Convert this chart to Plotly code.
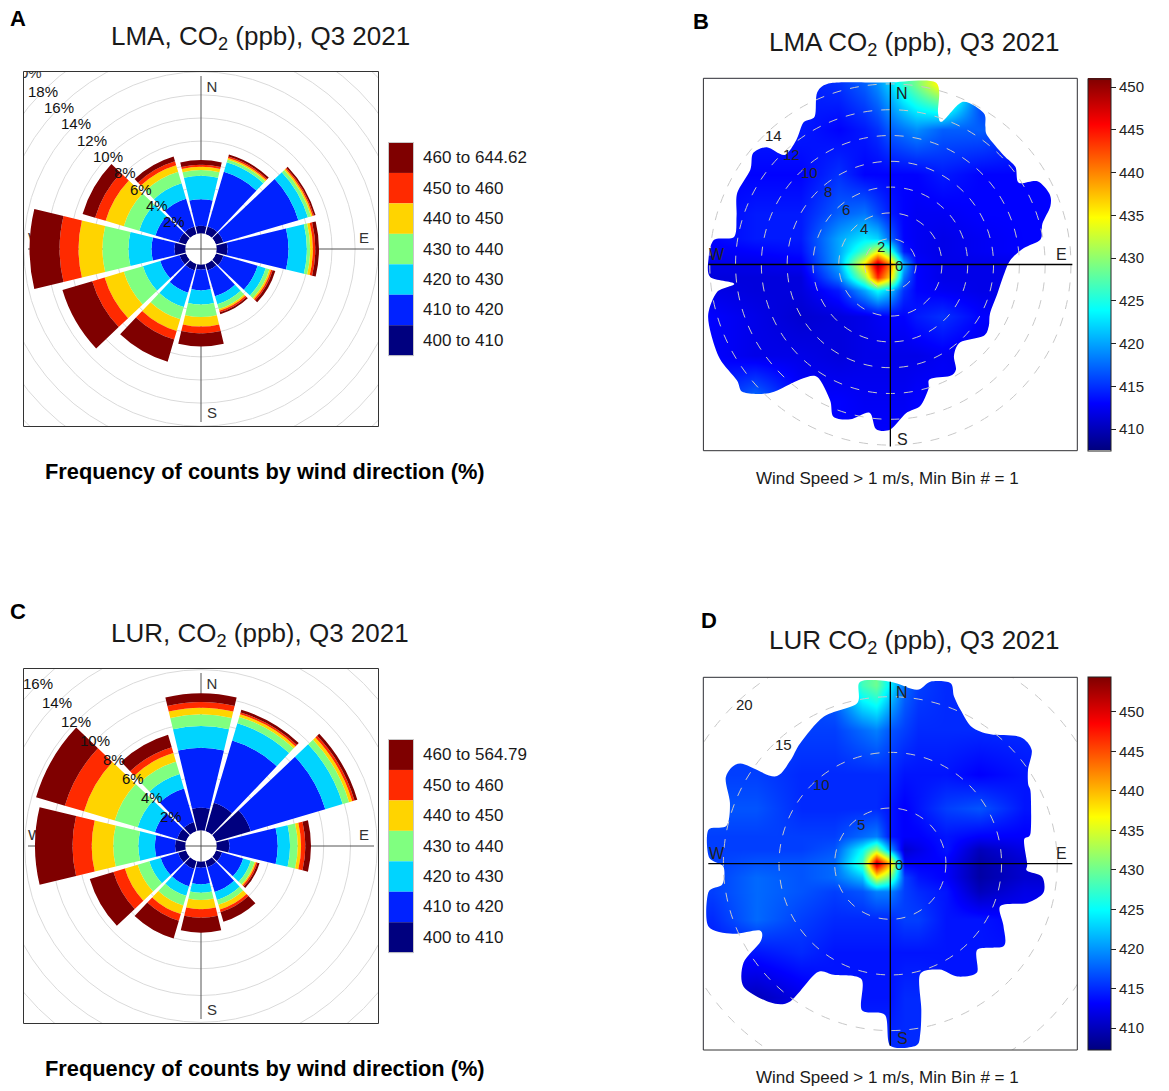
import numpy as np
import plotly.graph_objects as go

W, H = 1169, 1091
FONT = "Liberation Sans, Arial, sans-serif"

# ---------------- wind roses: frequency (%) by 30 degree sector and CO2 band ----------------
directions = [0, 30, 60, 90, 120, 150, 180, 210, 240, 270, 300, 330]
band_colors = ["#00007F", "#0022FF", "#00D4FF", "#80FF80", "#FFD400", "#FF2A00", "#7F0000"]
bands_lma = ["400 to 410", "410 to 420", "420 to 430", "430 to 440",
             "440 to 450", "450 to 460", "460 to 644.62"]
bands_lur = ["400 to 410", "410 to 420", "420 to 430", "430 to 440",
             "440 to 450", "450 to 460", "460 to 564.79"]

lma_400 = [0.67, 0.70, 0.69, 0.95, 0.69, 0.60, 0.43, 0.60, 0.60, 0.95, 0.69, 0.69]
lma_410 = [2.30, 4.93, 6.76, 5.28, 3.08, 2.33, 1.82, 2.00, 1.74, 1.99, 2.08, 2.51]
lma_420 = [2.03, 0.87, 0.86, 1.59, 0.73, 0.72, 1.21, 1.30, 1.56, 2.00, 1.47, 1.39]
lma_430 = [0.50, 0.25, 0.29, 0.29, 0.34, 0.43, 1.09, 1.10, 1.73, 2.25, 1.39, 1.04]
lma_440 = [0.28, 0.13, 0.14, 0.23, 0.15, 0.15, 0.82, 1.06, 1.73, 2.07, 1.64, 0.60]
lma_450 = [0.17, 0.12, 0.12, 0.21, 0.14, 0.15, 0.60, 0.78, 1.12, 1.64, 0.95, 0.35]
lma_460 = [0.40, 0.18, 0.14, 0.32, 0.24, 0.17, 1.13, 1.99, 2.69, 2.60, 1.13, 0.43]

lur_400 = [1.70, 2.20, 2.72, 0.96, 0.49, 0.49, 0.46, 0.63, 0.63, 0.78, 0.71, 0.71]
lur_410 = [4.48, 4.85, 5.80, 3.61, 1.64, 1.94, 1.24, 1.35, 1.35, 1.50, 1.72, 2.61]
lur_420 = [1.62, 1.35, 1.35, 0.92, 0.59, 0.61, 0.63, 0.74, 0.89, 1.24, 1.34, 1.12]
lur_430 = [0.87, 0.49, 0.50, 0.57, 0.30, 0.38, 0.54, 0.75, 0.90, 1.87, 1.79, 0.97]
lur_440 = [0.49, 0.20, 0.24, 0.25, 0.11, 0.37, 0.70, 0.67, 1.00, 1.61, 2.39, 0.67]
lur_450 = [0.43, 0.15, 0.18, 0.32, 0.11, 0.20, 0.62, 0.52, 0.89, 1.43, 1.49, 0.45]
lur_460 = [0.65, 0.20, 0.22, 0.42, 0.16, 0.75, 1.12, 1.38, 1.84, 2.80, 2.24, 0.97]

# ---------------- polar plots: mean CO2 on a wind-speed grid (u east, v north, m/s) ----------------
jet = [[0.0, "#00007F"], [0.125, "#0000FF"], [0.25, "#007FFF"], [0.375, "#00FFFF"],
       [0.5, "#7FFF7F"], [0.625, "#FFFF00"], [0.75, "#FF7F00"], [0.875, "#FF0000"],
       [1.0, "#7F0000"]]

lma_grid_u = [-14, -10.5, -7, -4, -2, -1, 0, 1, 2, 4, 7, 10.5, 14]
lma_grid_v = [14, 10.5, 7, 4, 2, 1, 0, -1, -2, -4, -7, -10.5, -14]
lma_co2 = [
    [413, 413, 414, 415, 417, 419, 422, 426, 429, 436, 415, 414, 414],
    [413, 414, 414, 413, 414, 415, 417, 418, 419, 417, 417, 415, 414],
    [413, 413, 413, 415, 413, 413, 413, 413, 413, 414, 413, 413, 413],
    [413, 414, 414, 417, 418, 416, 414, 413, 412.5, 412.5, 413, 413, 413],
    [413, 414, 414, 420, 423, 422, 417, 413, 412.5, 412, 412.5, 413, 413],
    [412.5, 413, 413.5, 420, 427, 434, 426, 414, 412.5, 412, 412.5, 413, 413],
    [412, 412, 412.5, 420, 436, 449, 440, 421, 413, 412, 412, 412, 412],
    [411.5, 411.5, 411.5, 418, 430, 444, 436, 418, 413, 412, 412, 412, 412],
    [412, 411.5, 411.5, 414, 420, 424, 421, 415, 413, 412.5, 412, 412, 412],
    [413, 412, 411, 411.5, 412, 412.5, 413, 413, 414, 415, 413, 412.5, 412.5],
    [413, 412, 412, 411.5, 412, 412, 412, 412, 412, 412.5, 412, 412, 412],
    [414, 418, 413, 413, 412.5, 412.5, 412.5, 412.5, 413, 413, 412.5, 412.5, 412.5],
    [413, 413, 413, 413, 413, 413, 413, 413, 413, 413, 413, 413, 413],
]
# outline of the sampled area: direction (deg) and wind speed (m/s)
lma_edge_dir = [0, 14, 17.5, 20, 24, 31.6, 34.5, 37, 46, 52, 57.5, 60.5, 66, 70, 75,
                80.5, 83, 88, 96, 105, 116, 122, 127.5, 138, 145, 148, 152, 161, 163,
                168, 174, 180, 185, 188, 194.5, 200.5, 204, 213, 218, 223, 229, 233,
                241, 249, 255, 261, 263, 266, 272, 278, 280, 287.5, 295, 304, 309,
                313.5, 316, 323, 328.5, 333, 337, 342, 356]
lma_edge_ws = [14.6, 14.6, 12.3, 11.8, 13.8, 13.8, 13.0, 12.5, 12.2, 12.3, 11.8, 13.1,
               13.5, 13.2, 12.2, 11.8, 10.4, 9.3, 8.8, 8.6, 8.6, 9.0, 9.1, 8.1, 8.6, 9.6,
               9.8, 9.4, 10.1, 11.2, 11.6, 12.8, 12.8, 11.6, 12.4, 12.6, 11.5, 10.4, 11.3,
               13.6, 15.1, 14.9, 15.1, 14.9, 14.7, 13.6, 12.2, 14.0, 14.1, 13.8, 12.3,
               12.5, 13.1, 13.1, 13.7, 13.2, 11.8, 12.1, 12.9, 12.9, 14.5, 14.8, 14.3]

lur_grid_u = [-16, -12, -8, -5, -2.5, -1.25, 0, 1.25, 2.5, 5, 8, 12, 16]
lur_grid_v = [16, 12, 8, 5, 2.5, 1.25, 0, -1.25, -2.5, -5, -8, -12, -16]
lur_co2 = [
    [415, 415, 416, 418, 428, 430, 424, 418, 416, 415, 415, 415, 415],
    [416, 416, 416, 416, 418, 419, 417, 416, 415, 415, 415, 415, 415],
    [416, 416, 415, 415, 415, 415, 415, 414, 414, 414, 413, 414, 414],
    [417, 417, 415, 415, 415, 415, 414, 413, 414, 416, 417, 414, 414],
    [416, 416, 416, 416, 418, 419, 414, 413, 413, 414, 413, 413, 413],
    [416, 416, 416, 417, 425, 432, 420, 411, 412, 414, 410, 412, 412],
    [416, 417, 417, 418, 428, 452, 440, 413, 413, 413, 409, 411, 411],
    [416, 418, 417, 418, 422, 436, 430, 416, 414, 413, 409, 411, 411],
    [416, 418, 417, 416, 417, 419, 419, 416, 415, 414, 410, 412, 412],
    [415, 418, 416, 415, 415, 415, 415, 416, 416, 414, 414, 413, 413],
    [414, 414, 415, 414, 414, 414, 414, 414, 414, 414, 414, 414, 414],
    [411, 410, 412, 414, 414, 414, 414, 415, 415, 414, 414, 414, 414],
    [414, 414, 414, 414, 415, 415, 415, 415, 415, 414, 414, 414, 414],
]
lur_edge_dir = [0, 8.7, 12.4, 18.4, 20.8, 24.5, 30.8, 37.8, 45.7, 51.2, 55.6, 60,
                63.5, 77.7, 80, 90, 93, 95, 100.8, 106, 111, 118.8, 126, 134.6, 141.5,
                149.3, 155, 165, 168, 170, 172, 180, 182, 191, 194, 207, 214, 216, 221,
                230, 236, 239, 243, 246, 251, 261, 263, 269, 272, 280.5, 283, 290.7,
                297.8, 303.7, 307, 315.9, 323.1, 335.6, 348.2, 350.6]
lur_edge_ws = [16.4, 15.8, 16.8, 17.1, 16.1, 15.2, 14.3, 14.7, 16.3, 16.3, 15.0, 14.3,
               14.1, 12.9, 12.2, 12.3, 12.3, 13.7, 14.0, 12.8, 10.6, 11.6, 12.6, 11.0,
               12.5, 11.8, 10.5, 10.3, 13.4, 15.5, 16.6, 16.4, 13.6, 13.4, 10.7, 11.2,
               11.8, 15.3, 16.5, 17.2, 15.9, 13.6, 13.2, 15.5, 17.3, 16.7, 15.2, 15.0,
               16.3, 16.8, 15.1, 15.4, 16.7, 16.2, 13.0, 12.9, 13.5, 14.5, 14.7, 16.6]

colorbar_ticks = [410, 415, 420, 425, 430, 435, 440, 445, 450]


def fx(px):
    return px / W


def fy(py):
    return 1 - py / H


fig = go.Figure()
shapes, frames, annotations, axes = [], [], [], {}

AXIS_STYLE = dict(showgrid=False, zeroline=False, showticklabels=False, ticks="",
                  showline=False, fixedrange=True)


def text_ann(x, y, text, size, bold=False, xref="paper", yref="paper",
             xanchor="center", color="#1a1a1a", xshift=0, yshift=0):
    if bold:
        text = "<b>" + text + "</b>"
    annotations.append(dict(x=x, y=y, xref=xref, yref=yref, text=text, showarrow=False,
                            xanchor=xanchor, yanchor="middle", xshift=xshift, yshift=yshift,
                            font=dict(family=FONT, size=size, color=color)))


def frame_box(l, t, r, b):
    frames.append(dict(type="rect", xref="paper", yref="paper", x0=fx(l), x1=fx(r),
                       y0=fy(b), y1=fy(t), fillcolor="rgba(0,0,0,0)",
                       line=dict(color="#333333", width=1), layer="above"))


# ---------------- wind rose panels ----------------
def wind_rose(ax, polar_name, frame, k, h, series, labels, pct_max, title, title_y,
              footer_y, legend_top, letter, letter_xy):
    l, t, r, b = frame
    cx, cy = (l + r) / 2, (t + b) / 2
    half = (r - l) / 2
    xa, ya = ("xaxis", "yaxis") if ax == "" else ("xaxis" + ax, "yaxis" + ax)
    xr, yr = "x" + ax, "y" + ax
    axes[xa] = dict(domain=[fx(l), fx(r)], range=[-half, half], anchor=yr, **AXIS_STYLE)
    axes[ya] = dict(domain=[fy(b), fy(t)], range=[-half, half], anchor=xr, **AXIS_STYLE)

    # frequency grid circles every 2 %
    for p in range(2, pct_max + 4, 2):
        rad = h + k * p
        shapes.append(dict(type="circle", xref=xr, yref=yr, x0=-rad, x1=rad, y0=-rad, y1=rad,
                           line=dict(color="#DADADA", width=1), layer="below"))
    arm = 173
    for x0, y0, x1, y1 in [(0, -arm, 0, arm), (-arm, 0, arm, 0)]:
        shapes.append(dict(type="line", xref=xr, yref=yr, x0=x0, y0=y0, x1=x1, y1=y1,
                           line=dict(color="#555555", width=1), layer="below"))

    # compass letters and outermost (clipped) percentage label sit under the bars
    ang = np.deg2rad(315)
    far = h + k * (pct_max + 2)
    fig.add_trace(go.Scatter(
        x=[11, 163, 11, -166, far * np.sin(ang)],
        y=[161, 10, -165, 10, far * np.cos(ang)],
        text=["N", "E", "S", "W", f"{pct_max + 2}%"], mode="text",
        textfont=dict(family=FONT, size=15, color="#333333"),
        xaxis=xr, yaxis=yr, cliponaxis=True, hoverinfo="skip", showlegend=False))

    R = 176
    axes[polar_name] = dict(
        domain=dict(x=[fx(cx - R), fx(cx + R)], y=[fy(cy + R), fy(cy - R)]),
        hole=h / R, bgcolor="rgba(0,0,0,0)", barmode="stack",
        radialaxis=dict(range=[0, (R - h) / k], visible=False),
        angularaxis=dict(rotation=90, direction="clockwise", visible=False))
    for vals, col, lab in zip(series, band_colors, labels):
        fig.add_trace(go.Barpolar(r=vals, theta=directions, width=27, marker_color=col,
                                  marker_line_width=0, subplot=polar_name, name=lab,
                                  hoverinfo="skip", showlegend=False))

    for p in range(2, pct_max + 1, 2):
        rad = h + k * p
        text_ann(rad * np.sin(ang), rad * np.cos(ang), f"{p}%", 15, xref=xr, yref=yr,
                 color="#111111")

    # legend swatches
    sw_l, sw_r, sw_h = 388.5, 413.5, 30.45
    for i, (col, lab) in enumerate(zip(band_colors[::-1], labels[::-1])):
        y0 = legend_top + i * sw_h
        shapes.append(dict(type="rect", xref="paper", yref="paper", x0=fx(sw_l), x1=fx(sw_r),
                           y0=fy(y0 + sw_h), y1=fy(y0), fillcolor=col, line=dict(width=0)))
        text_ann(fx(420.5), fy(y0 + sw_h / 2), lab, 17, xanchor="left")
    shapes.append(dict(type="rect", xref="paper", yref="paper", x0=fx(sw_l), x1=fx(sw_r),
                       y0=fy(legend_top + 7 * sw_h), y1=fy(legend_top),
                       fillcolor="rgba(0,0,0,0)", line=dict(color="#C8C8C8", width=1)))

    frame_box(l, t, r, b)
    text_ann(fx(260), fy(title_y), title, 26)
    text_ann(fx(264.5), fy(footer_y), "Frequency of counts by wind direction (%)", 21.8,
             bold=True, color="#000000")
    text_ann(fx(letter_xy[0]), fy(letter_xy[1]), letter, 22, bold=True, color="#000000")


wind_rose("", "polar", (23.5, 71.5, 378.5, 426.5), 11.55, 15.5,
          [lma_400, lma_410, lma_420, lma_430, lma_440, lma_450, lma_460], bands_lma, 18,
          "LMA, CO<sub>2</sub> (ppb), Q3 2021", 37, 471, 142.5, "A", (18, 18.5))
wind_rose("2", "polar2", (23.5, 668.5, 378.5, 1023.5), 13.4, 15.5,
          [lur_400, lur_410, lur_420, lur_430, lur_440, lur_450, lur_460], bands_lur, 16,
          "LUR, CO<sub>2</sub> (ppb), Q3 2021", 634, 1068, 739.5, "C", (18, 612))


# ---------------- polar concentration panels ----------------
def smooth_closed_path(xs, ys):
    n = len(xs)
    d = f"M{xs[0]:.4f},{ys[0]:.4f}"
    for i in range(n):
        p0 = (xs[i - 1], ys[i - 1])
        p1 = (xs[i], ys[i])
        p2 = (xs[(i + 1) % n], ys[(i + 1) % n])
        p3 = (xs[(i + 2) % n], ys[(i + 2) % n])
        c1 = (p1[0] + (p2[0] - p0[0]) / 7, p1[1] + (p2[1] - p0[1]) / 7)
        c2 = (p2[0] - (p3[0] - p1[0]) / 7, p2[1] - (p3[1] - p1[1]) / 7)
        d += (f" C{c1[0]:.4f},{c1[1]:.4f} {c2[0]:.4f},{c2[1]:.4f}"
              f" {p2[0]:.4f},{p2[1]:.4f}")
    return d + " Z"


def polar_map(ax, frame, k, gu, gv, z, edge_dir, edge_ws, zrange, rings, title, title_y,
              footer_y, letter, letter_xy):
    l, t, r, b = frame
    cx, cy = (l + r) / 2, (t + b) / 2
    xr, yr = "x" + ax, "y" + ax
    hx, hy = (r - l) / 2 / k, (b - t) / 2 / k
    axes["xaxis" + ax] = dict(domain=[fx(l), fx(r)], range=[-hx, hx], anchor=yr, **AXIS_STYLE)
    axes["yaxis" + ax] = dict(domain=[fy(b), fy(t)], range=[-hy, hy], anchor=xr, **AXIS_STYLE)

    fig.add_trace(go.Heatmap(
        x=gu, y=gv[::-1], z=z[::-1], zsmooth="best", colorscale=jet,
        zmin=zrange[0], zmax=zrange[1], xaxis=xr, yaxis=yr, hoverinfo="skip",
        colorbar=dict(x=fx(1088.3), xanchor="left", xpad=0, y=fy(cy), yanchor="middle",
                      ypad=0, len=b - t, lenmode="pixels", thickness=23,
                      thicknessmode="pixels", outlinecolor="#222222", outlinewidth=1,
                      ticks="outside", ticklen=5, tickcolor="#222222",
                      tickvals=colorbar_ticks, tickprefix="\u00a0",
                      tickfont=dict(family=FONT, size=15, color="#222222"))))

    # white mask outside the sampled area
    lim = 182 / k
    th = np.deg2rad(edge_dir)
    ws = np.minimum(np.array(edge_ws),
                    lim / np.maximum(np.abs(np.sin(th)), np.abs(np.cos(th))))
    bx, by = ws * np.sin(th), ws * np.cos(th)
    big = 3 * max(hx, hy)
    path = smooth_closed_path(list(bx), list(by))
    path += f" M{-big},{-big} L{big},{-big} L{big},{big} L{-big},{big} Z"
    shapes.append(dict(type="path", xref=xr, yref=yr, path=path, fillcolor="white",
                       fillrule="evenodd", line=dict(width=0), layer="above"))

    # dashed speed rings and crosshair
    for v in rings:
        shapes.append(dict(type="circle", xref=xr, yref=yr, x0=-v, x1=v, y0=-v, y1=v,
                           line=dict(color="#C8C8C8", width=1, dash="dash"), layer="above"))
    for x0, y0, x1, y1 in [(0, -lim, 0, lim), (-lim, 0, lim, 0)]:
        shapes.append(dict(type="line", xref=xr, yref=yr, x0=x0, y0=y0, x1=x1, y1=y1,
                           line=dict(color="#000000", width=1.3), layer="above"))

    ang = np.deg2rad(316)
    for v in [0] + list(rings):
        text_ann(v * np.sin(ang), v * np.cos(ang), str(v), 15, xref=xr, yref=yr,
                 xshift=9, yshift=-1, color="#222222")
    for lab, dx, dy in [("N", 12, 171), ("E", 171, 10.5), ("S", 12, -175), ("W", -173.5, 10.5)]:
        text_ann(dx / k, dy / k, lab, 16, xref=xr, yref=yr, color="#222222")

    frame_box(l, t, r, b)
    text_ann(fx(914), fy(title_y), title, 26)
    text_ann(fx(887.5), fy(footer_y), "Wind Speed > 1 m/s, Min Bin # = 1", 17)
    text_ann(fx(letter_xy[0]), fy(letter_xy[1]), letter, 22, bold=True, color="#000000")


polar_map("3", (703.4, 78.3, 1077.3, 450.7), 12.9, lma_grid_u, lma_grid_v, lma_co2,
          lma_edge_dir, lma_edge_ws, (407.5, 451.0), [2, 4, 6, 8, 10, 12, 14],
          "LMA CO<sub>2</sub> (ppb), Q3 2021", 43, 478, "B", (701, 22))
polar_map("4", (703.3, 677.3, 1077.3, 1050.0), 11.13, lur_grid_u, lur_grid_v, lur_co2,
          lur_edge_dir, lur_edge_ws, (407.2, 454.4), [5, 10, 15, 20],
          "LUR CO<sub>2</sub> (ppb), Q3 2021", 641, 1077, "D", (709, 620))

fig.update_layout(width=W, height=H, margin=dict(l=0, r=0, t=0, b=0),
                  paper_bgcolor="white", plot_bgcolor="white", showlegend=False,
                  shapes=shapes + frames, annotations=annotations, **axes)
fig.write_html("out.html")
